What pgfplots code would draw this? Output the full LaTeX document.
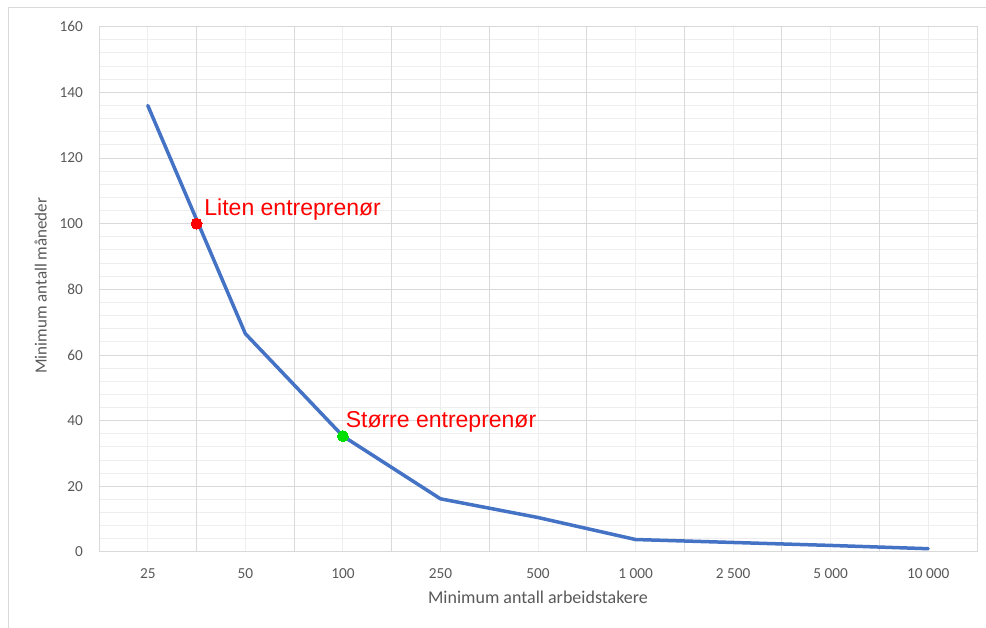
\documentclass[border=0pt]{standalone}
\usepackage{fontspec}
\setmainfont{Carlito}
\newfontfamily\notefont{Liberation Sans}
\usepackage{pgfplots}
\pgfplotsset{compat=1.18}

\definecolor{seriesblue}{HTML}{4472C4}
\definecolor{gridmajor}{HTML}{D9D9D9}
\definecolor{gridminor}{HTML}{EEEEEE}
\definecolor{labelgray}{HTML}{595959}
\definecolor{notered}{HTML}{FF0000}
\definecolor{notegreen}{HTML}{00E000}

\begin{document}
\begin{tikzpicture}[x=1pt,y=1pt]
\useasboundingbox (0,0) rectangle (986,628);
% chart frame
\draw[gridmajor, line width=1pt] (8,-20) -- (8,620) -- (1010,620);

\begin{axis}[
  at={(99pt,76pt)}, anchor=south west,
  scale only axis, width=878pt, height=525.3pt,
  xmin=-0.5, xmax=8.5, ymin=0, ymax=160,
  axis line style={draw=gridmajor, line width=1pt},
  major tick length=0pt, minor tick length=0pt,
  xtick={0,...,8},
  xticklabels={25,50,100,250,500,1 000,2 500,5 000,10 000},
  minor xtick={0,...,8},
  xminorgrids=true,
  extra x ticks={-0.5,0.5,...,8.5},
  extra x tick labels={},
  extra x tick style={grid=major},
  ytick={0,20,...,160},
  minor y tick num=4,
  ymajorgrids=true, yminorgrids=true,
  major grid style={draw=gridmajor, line width=1pt},
  minor grid style={draw=gridminor, line width=1pt},
  /pgf/number format/assume math mode=true,
  tick label style={font=\fontsize{15.3}{18}\selectfont, text=labelgray},
  yticklabel style={anchor=east, inner sep=0pt, xshift=-16pt},
  xticklabel style={anchor=north, inner sep=0pt, yshift=-16pt},
  every axis x label/.style={at={(axis description cs:0.5,-0.099)}, anchor=base,
    font=\fontsize{18}{21}\selectfont, text=labelgray},
  every axis y label/.style={at={(axis description cs:-0.0596,0.507)}, anchor=base,
    rotate=90, font=\fontsize{17}{20}\selectfont, text=labelgray},
  xlabel={Minimum antall arbeidstakere},
  ylabel={Minimum antall måneder},
  clip=false,
]
% minimum months by minimum number of workers
\addplot[seriesblue, line width=3.5pt, line join=round, line cap=round] coordinates {
  (0,136) (1,66.5) (2,35.3) (3,16.2) (4,10.5) (5,3.8) (6,2.9) (7,2.0) (8,1.0)
};
% highlighted contractors
\addplot[notered, only marks, mark=*, mark size=5.5pt,
  mark options={draw=notered, fill=notered, line width=0pt}]
  coordinates {(0.5,100)};
\addplot[notegreen, only marks, mark=*, mark size=5.5pt,
  mark options={draw=notegreen, fill=notegreen, line width=0pt}]
  coordinates {(2,35.3)};
\node[anchor=base west, inner sep=0pt, text=notered, font=\notefont\fontsize{23}{26}\selectfont]
  at (axis cs:0.5,100) [xshift=7.7pt, yshift=8.4pt] {Liten entreprenør};
\node[anchor=base west, inner sep=0pt, text=notered, font=\notefont\fontsize{23}{26}\selectfont]
  at (axis cs:2,35.3) [xshift=2.7pt, yshift=8.7pt] {Større entreprenør};
\end{axis}
\end{tikzpicture}
\end{document}
